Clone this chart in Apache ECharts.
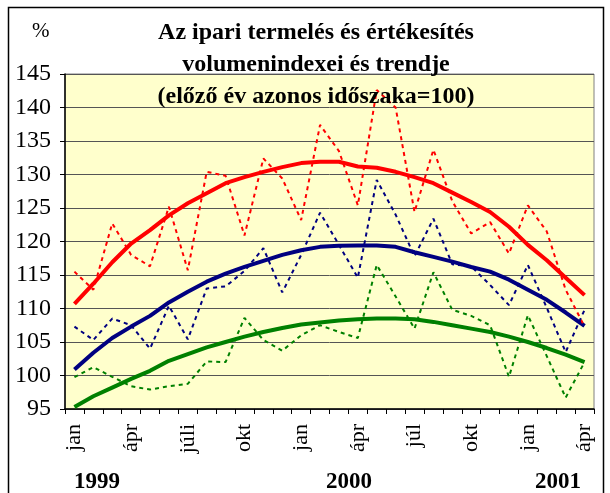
<!DOCTYPE html>
<html>
<head>
<meta charset="utf-8">
<script src="https://cdn.jsdelivr.net/npm/echarts@6/dist/echarts.min.js"></script>
<style>
    html, body { margin: 0; padding: 0; background: #fff; }
    #chart { width: 610px; height: 493px; }
</style>
</head>
<body>
<div id="chart"></div>
<script>
// hónapok 1999 jan - 2001 ápr
var honapok = ['jan', 'febr', 'márc', 'ápr', 'máj', 'jún', 'júli', 'aug', 'szept', 'okt', 'nov', 'dec',
    'jan', 'febr', 'márc', 'ápr', 'máj', 'jún', 'júl', 'aug', 'szept', 'okt', 'nov', 'dec',
    'jan', 'febr', 'márc', 'ápr'];
var evek = ['1999', '2000', '2001'];
var yTicks = [95, 100, 105, 110, 115, 120, 125, 130, 135, 140, 145];

// piros
var piros = [115.5, 112.8, 122.7, 118.0, 116.3, 125.2, 115.7, 130.4, 129.8, 120.9, 132.4, 129.4, 123.2, 137.4,
    133.5, 125.4, 142.6, 140.0, 124.4, 133.7, 126.0, 121.2, 122.9, 118.2, 125.4, 121.5, 112.8, 107.3];
var pirosTrend = [110.7, 113.7, 116.9, 119.7, 121.7, 123.9, 125.7, 127.2, 128.7, 129.6, 130.4, 131.1, 131.7, 131.9,
    131.9, 131.2, 131.0, 130.4, 129.6, 128.7, 127.3, 125.9, 124.4, 122.2, 119.5, 117.2, 114.6, 112.0];
// kék
var kek = [107.3, 105.3, 108.5, 107.5, 104.0, 110.4, 105.4, 113.0, 113.3, 115.6, 119.0, 112.4, 118.0, 124.3,
    119.5, 114.6, 129.2, 124.0, 117.8, 123.4, 116.6, 116.3, 113.5, 110.5, 116.5, 110.1, 103.5, 109.8];
var kekTrend = [100.9, 103.4, 105.6, 107.3, 108.9, 110.9, 112.5, 114.0, 115.2, 116.2, 117.1, 118.0, 118.7, 119.2,
    119.35, 119.4, 119.4, 119.2, 118.4, 117.7, 117.0, 116.2, 115.5, 114.3, 112.8, 111.3, 109.4, 107.4];
// zöld
var zold = [99.75, 101.25, 99.8, 98.4, 97.9, 98.4, 98.75, 102.1, 102.0, 108.6, 105.3, 103.7, 106.0, 107.5,
    106.5, 105.6, 116.5, 111.8, 107.0, 115.4, 109.8, 108.9, 107.5, 99.8, 109.0, 102.9, 96.7, 102.0];
var zoldTrend = [95.3, 96.9, 98.2, 99.5, 100.7, 102.2, 103.2, 104.2, 105.0, 105.8, 106.5, 107.1, 107.6, 107.9,
    108.2, 108.4, 108.5, 108.5, 108.4, 108.0, 107.5, 107.0, 106.5, 105.8, 105.0, 104.1, 103.1, 102.0];

var betu = "'Liberation Serif', 'Times New Roman', serif";

function szaggatott(adat, szin) {
    return {
        type: 'line',
        data: adat,
        symbol: 'none',
        lineStyle: { color: szin, width: 2, type: [4, 4] },
        z: 3
    };
}
function trend(adat, szin) {
    return {
        type: 'line',
        data: adat,
        symbol: 'none',
        lineStyle: { color: szin, width: 4 },
        z: 2
    };
}

var myChart = echarts.init(document.getElementById('chart'), null, { renderer: 'canvas' });

var option = {
    animation: false,
    backgroundColor: '#ffffff',
    title: {
        text: 'Az ipari termelés és értékesítés\nvolumenindexei és trendje\n(előző év azonos időszaka=100)',
        left: 311,
        top: 12,
        textAlign: 'center',
        textStyle: {
            fontFamily: betu,
            fontWeight: 'bold',
            fontSize: 24,
            lineHeight: 32,
            color: '#000'
        }
    },
    grid: {
        left: 65,
        right: 16,
        top: 74,
        bottom: 84,
        show: true,
        backgroundColor: '#ffffcc',
        borderColor: '#808080',
        borderWidth: 1
    },
    xAxis: {
        type: 'category',
        data: honapok,
        boundaryGap: true,
        axisLine: { lineStyle: { color: '#000', width: 1.5 } },
        axisTick: { show: true, length: 5, interval: 0, lineStyle: { color: '#000' } },
        axisLabel: {
            interval: 2,
            rotate: 90,
            margin: 15,
            fontFamily: betu,
            fontSize: 22,
            color: '#000'
        },
        splitLine: { show: false }
    },
    yAxis: {
        type: 'value',
        min: yTicks[0],
        max: yTicks[yTicks.length - 1],
        interval: 5,
        axisLine: { show: true, lineStyle: { color: '#000', width: 1.5 } },
        axisTick: { show: true, length: 5, lineStyle: { color: '#000' } },
        axisLabel: {
            margin: 14,
            fontFamily: betu,
            fontSize: 24,
            color: '#000'
        },
        splitLine: { show: true, lineStyle: { color: '#555', width: 1 } }
    },
    series: [
        trend(pirosTrend, '#ff0000'),
        trend(kekTrend, '#000080'),
        trend(zoldTrend, '#008000'),
        szaggatott(piros, '#ff0000'),
        szaggatott(kek, '#000080'),
        szaggatott(zold, '#008000')
    ],
    graphic: [
        {
            type: 'rect',
            shape: { x: 8.5, y: 7.5, width: 595, height: 500 },
            style: { fill: null, stroke: '#000', lineWidth: 1.5 },
            silent: true
        },
        {
            type: 'text', left: 32, top: 21,
            style: { text: '%', font: '21px ' + betu, fill: '#000' }
        },
        {
            type: 'text', left: 74, top: 471,
            style: { text: evek[0], font: 'bold 23px ' + betu, fill: '#000' }
        },
        {
            type: 'text', left: 326, top: 471,
            style: { text: evek[1], font: 'bold 23px ' + betu, fill: '#000' }
        },
        {
            type: 'text', left: 535, top: 471,
            style: { text: evek[2], font: 'bold 23px ' + betu, fill: '#000' }
        }
    ]
};

myChart.setOption(option);
</script>
</body>
</html>
